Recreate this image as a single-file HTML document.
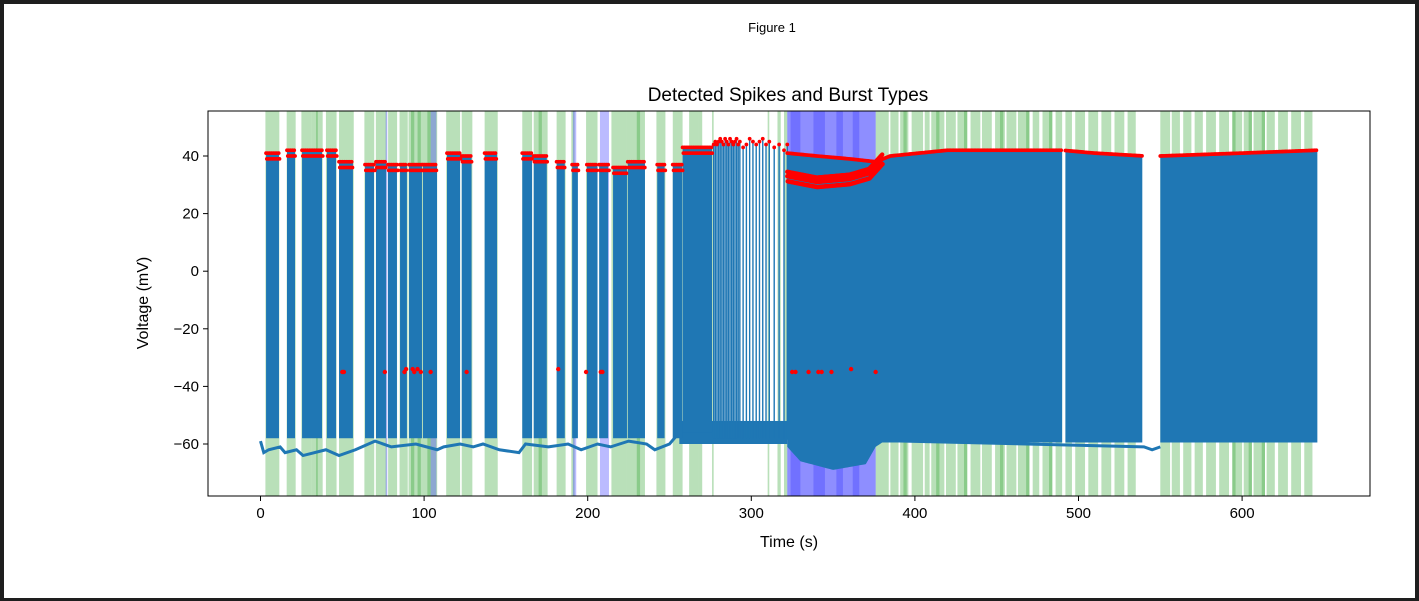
<!DOCTYPE html>
<html><head><meta charset="utf-8"><style>
html,body{margin:0;padding:0;background:#1e1e1e;}
#frame{position:absolute;left:4px;top:4px;width:1411px;height:594px;background:#fff;}
svg{position:absolute;left:0;top:0;}
text{font-family:"Liberation Sans","DejaVu Sans",sans-serif;fill:#000;}
</style></head><body>
<div id="frame"></div>
<svg id="chart" width="1419" height="601"></svg>
<script>
const xTicks=[0,100,200,300,400,500,600];
const yTicks=[40,20,0,-20,-40,-60];
// bursts: start, end (s)
const burstStart=[3.4,16.2,25.4,40.6,48,63.9,70.6,77.9,85.3,90.8,99.3,114,123,137,160,167,181,190.5,199.5,207,215.5,224.5,242.5,252,258];
const burstEnd=[11.3,21.1,37.6,46.2,56.5,69.4,76.7,83.4,89.5,98.7,107.9,122,129,144.6,166,175,186,194,206,212.5,224,235,247,257.7,276];
const burstPeak=[41,42,42,42,38,37,38,37,37,37,37,41,40,41,41,40,38,37,37,37,36,38,37,37,43];
const burstTrough=[-58,-58,-58,-58,-58,-58,-58,-58,-58,-58,-58,-58,-58,-58,-58,-58,-58,-58,-58,-58,-58,-58,-58,-58,-56];
// sparse single spikes
const sparseT=[277,278,279,280,281,282,283,284,285,286,287,288,289,290,291,292,293,295,297,299,301,303,305,307,309,311,314,317,320,322];
const sparseV=[44,45,44,45,46,45,44,46,45,44,46,45,44,45,46,44,45,43,44,46,45,44,45,46,44,45,43,44,42,44];
// dense spiking segments
const denseStart=[322,492,550];
const denseEnd=[490,539.5,646];
const upperT=[322,340,360,376,385,420,450,490,510,540,550,600,646];
const upperV=[41,40,39,38,40,42,42,42,41,40,40,41,42];
const lowerT=[322,330,350,370,376,380,646];
const lowerV=[-61,-66,-69,-67,-61,-59.5,-59.5];
const bandT=[322,340,360,372,380];
const bandV=[33,31,32,34,39];
// baseline between bursts
const baseT=[0,2,5,12,15,22,26,40,48,58,62,70,80,95,108,112,122,130,136,146,158,162,176,188,196,206,214,225,236,241,250,256,270,290,300,310,320,322,540,545,550];
const baseV=[-59,-63,-62,-61,-63,-62,-64,-62,-64,-62,-61,-59,-61,-60,-62,-61,-60,-61,-60,-62,-63,-60,-61,-60,-62,-60,-61,-59,-60,-62,-60,-56,-55,-55,-56,-56,-55,-58,-61,-62,-61];
// low spikes at -35
const lowDotT=[50,51,76,88,89,93,94,96,98,104,126,182,199,208,209,325,327,335,341,343,349,361,376];
const lowDotV=[-35,-35,-35,-35,-34,-34,-35,-34,-35,-35,-35,-34,-35,-35,-35,-35,-35,-35,-35,-35,-35,-34,-35];
// spans
const greenSpans=[[3,11.5],[16,21.5],[25,31],[31,35],[34,38],[40,46.5],[48,57],[63.5,69.5],[70.5,77],[78,83.5],[85,90],[90.5,99],[92,94],[96,98],[99,108],[102,104],[113.5,122],[123,129.5],[137,145],[160,166],[167,175.5],[170,172],[181,186.5],[190,192],[199,206],[214.5,224],[224,235],[230,232],[242,247.5],[252,258],[262,268],[268,270],[276,277],[310,311],[316,318],[320,322],
[376,384],[385,390],[391,396],[393,395],[398,405],[406,409],[410,418],[413,415],[419,425],[426,432],[430,432],[434,440],[441,447],[449,455],[452,454],[456,462],[463,470],[468,470],[472,476],[478,484],[482,484],[486,490],[492,496],[498,504],[506,512],[514,520],[522,528],[530,535],[550,556],[557,562],[564,569],[571,576],[578,584],[586,592],[594,600],[594,596],[601,606],[604,606],[607,614],[612,614],[615,620],[622,628],[630,636],[638,643]];
const blueSpans=[[76.5,77.5],[104,107.5],[191,193],[207.5,213],[322,376],[322,376],[324,330],[338,345],[352,356],[362,366]];

const svg=document.getElementById('chart');
const NS='http://www.w3.org/2000/svg';
const L=208,R=1370,T=111,B=496;
function X(t){return 260.5+t*1.636;}
function Y(v){return 156+(40-v)*2.88;}
function mk(tag,attrs,parent){const e=document.createElementNS(NS,tag);for(const k in attrs)e.setAttribute(k,attrs[k]);(parent||svg).appendChild(e);return e;}
function interp(ts,vs,t){if(t<=ts[0])return vs[0];for(let i=1;i<ts.length;i++){if(t<=ts[i]){const f=(t-ts[i-1])/(ts[i]-ts[i-1]);return vs[i-1]+f*(vs[i]-vs[i-1]);}}return vs[vs.length-1];}

let e;
e=mk('text',{x:772,y:32,'font-size':13,'text-anchor':'middle'});e.textContent='Figure 1';


e=mk('text',{x:788,y:101,'font-size':19,'text-anchor':'middle'});e.textContent='Detected Spikes and Burst Types';



const defs=mk('clipPath',{id:'clip'});mk('rect',{x:L,y:T,width:R-L,height:B-T},defs);
const plot=mk('g',{'clip-path':'url(#clip)'});



greenSpans.forEach(s=>{const r=mk('rect',{x:X(s[0]),y:T,width:X(s[1])-X(s[0]),height:B-T,fill:'rgba(44,160,44,0.33)'},plot);

});
blueSpans.forEach(s=>{const r=mk('rect',{x:X(s[0]),y:T,width:X(s[1])-X(s[0]),height:B-T,fill:'rgba(60,60,255,0.35)'},plot);

});

// baseline
let pts=baseT.map((t,i)=>X(t)+','+Y(baseV[i])).join(' ');
e=mk('polyline',{points:pts,fill:'none',stroke:'#1f77b4','stroke-width':3},plot);


// noisy band in sparse region
e=mk('rect',{x:X(256),y:Y(-52),width:X(322)-X(256),height:Y(-60)-Y(-52),fill:'#1f77b4'},plot);



// bursts
burstStart.forEach((s,i)=>{const r=mk('rect',{x:X(s),y:Y(burstPeak[i]),width:X(burstEnd[i])-X(s),height:Y(burstTrough[i])-Y(burstPeak[i]),fill:'#1f77b4'},plot);

});
sparseT.forEach((t,i)=>{const l=mk('line',{x1:X(t),x2:X(t),y1:Y(sparseV[i]),y2:Y(-58),stroke:'#1f77b4','stroke-width':1.4},plot);

});
denseStart.forEach((s,i)=>{const en=denseEnd[i];let top=[],bot=[];
 for(let t=s;t<=en+0.001;t+=1){top.push(X(t)+','+Y(interp(upperT,upperV,t)));bot.unshift(X(t)+','+Y(interp(lowerT,lowerV,t)));}
 const p=mk('polygon',{points:top.concat(bot).join(' '),fill:'#1f77b4'},plot);
 
 });

// red dots
const dots=mk('g',{fill:'#ff0000'},plot);


burstStart.forEach((s,i)=>{for(let t=s;t<=burstEnd[i];t+=1.1){mk('circle',{cx:X(t),cy:Y(burstPeak[i]),r:1.9},dots);mk('circle',{cx:X(t+0.5),cy:Y(burstPeak[i]-2),r:1.9},dots);}});
sparseT.forEach((t,i)=>mk('circle',{cx:X(t),cy:Y(sparseV[i]),r:1.9},dots));
denseStart.forEach((s,i)=>{for(let t=s;t<=denseEnd[i];t+=0.9){const v=interp(upperT,upperV,t);mk('circle',{cx:X(t),cy:Y(v),r:1.9},dots);}});
for(let t=bandT[0];t<=bandT[bandT.length-1];t+=0.5){const v=interp(bandT,bandV,t);mk('circle',{cx:X(t),cy:Y(v),r:2.2},dots);mk('circle',{cx:X(t+0.25),cy:Y(v-1.8),r:2.2},dots);mk('circle',{cx:X(t),cy:Y(v+1.5),r:2.2},dots);}
lowDotT.forEach((t,i)=>mk('circle',{cx:X(t),cy:Y(lowDotV[i]),r:2.2},dots));

// axes
e=mk('rect',{x:L,y:T,width:R-L,height:B-T,fill:'none',stroke:'#000','stroke-width':1});


xTicks.forEach(t=>{mk('line',{x1:X(t),x2:X(t),y1:B,y2:B+5,stroke:'#000'});const tx=mk('text',{x:X(t),y:B+22,'font-size':15,'text-anchor':'middle'});tx.textContent=t;

});
yTicks.forEach(v=>{mk('line',{x1:L-5,x2:L,y1:Y(v),y2:Y(v),stroke:'#000'});const tx=mk('text',{x:L-9,y:Y(v)+5,'font-size':15,'text-anchor':'end'});tx.textContent=(v<0?'\u2212'+(-v):v);

});
e=mk('text',{x:789,y:547,'font-size':16,'text-anchor':'middle'});e.textContent='Time (s)';


e=mk('text',{x:0,y:0,'font-size':16,'text-anchor':'middle',transform:'translate(148,303) rotate(-90)'});e.textContent='Voltage (mV)';


</script>
</body></html>
